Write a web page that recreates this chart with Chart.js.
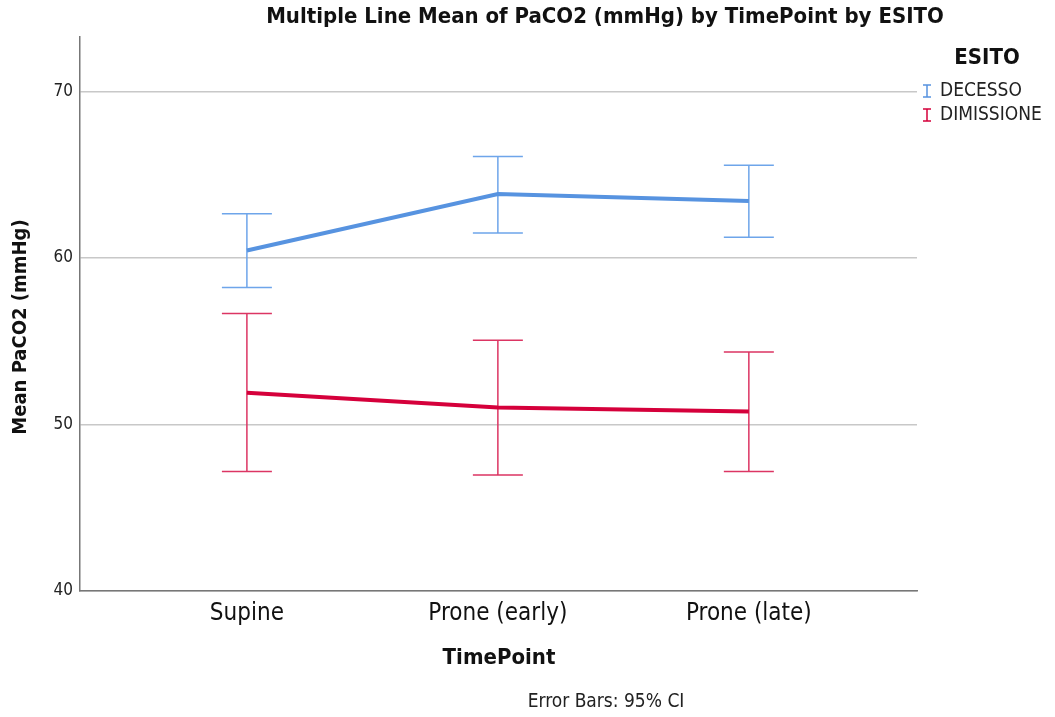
<!DOCTYPE html>
<html>
<head>
<meta charset="utf-8">
<script src="https://cdn.jsdelivr.net/npm/chart.js@4"></script>
<style>
  html, body { margin: 0; background: #fff; }
</style>
</head>
<body>
<canvas id="chart" width="1055" height="717"></canvas>
<script>
const timePoints = ['Supine', 'Prone (early)', 'Prone (late)'];
const decessoMean = [60.45, 63.84, 63.42];
const decessoLow = [58.22, 61.50, 61.24];
const decessoHigh = [62.65, 66.10, 65.57];
const dimissioneMean = [51.90, 51.02, 50.78];
const dimissioneLow = [47.18, 46.96, 47.18];
const dimissioneHigh = [56.67, 55.06, 54.36];
const yTicks = [40, 50, 60, 70];

const FONT = '"DejaVu Sans Condensed", "Liberation Sans Narrow", "DejaVu Sans", sans-serif';
const BLUE = '#5793e0';
const BLUE_BAR = '#6ea5ea';
const RED = '#d5003b';
const RED_BAR = '#dc3563';

const series = [
  { label: 'DECESSO', mean: decessoMean, low: decessoLow, high: decessoHigh, color: BLUE, bar: BLUE_BAR },
  { label: 'DIMISSIONE', mean: dimissioneMean, low: dimissioneLow, high: dimissioneHigh, color: RED, bar: RED_BAR }
];

// error bars (95% CI) + the loose texts around the plot
const spssExtras = {
  id: 'spssExtras',
  beforeDatasetsDraw(chart) {
    const { ctx, scales: { x, y } } = chart;
    ctx.save();
    ctx.lineWidth = 1.5;
    series.forEach(s => {
      ctx.strokeStyle = s.bar;
      s.mean.forEach((m, i) => {
        const px = x.getPixelForValue(i);
        const top = y.getPixelForValue(s.high[i]);
        const bot = y.getPixelForValue(s.low[i]);
        ctx.beginPath();
        ctx.moveTo(px, top); ctx.lineTo(px, bot);
        ctx.moveTo(px - 25, top); ctx.lineTo(px + 25, top);
        ctx.moveTo(px - 25, bot); ctx.lineTo(px + 25, bot);
        ctx.stroke();
      });
    });
    ctx.restore();
  },
  afterDraw(chart) {
    const { ctx, chartArea } = chart;
    ctx.save();
    ctx.fillStyle = '#111';
    ctx.textBaseline = 'middle';
    ctx.textAlign = 'center';

    ctx.font = 'bold 22px ' + FONT;
    ctx.fillText('Multiple Line Mean of PaCO2 (mmHg) by TimePoint by ESITO', 605, 17);
    ctx.fillText('TimePoint', 499, 658);

    ctx.font = 'bold 20px ' + FONT;
    ctx.save();
    ctx.translate(21, (chartArea.top + chartArea.bottom) / 2 + 13);
    ctx.rotate(-Math.PI / 2);
    ctx.fillText('Mean PaCO2 (mmHg)', 0, 0);
    ctx.restore();

    ctx.font = '19px ' + FONT;
    ctx.fillStyle = '#222';
    ctx.fillText('Error Bars: 95% CI', 606, 702);

    // legend
    ctx.fillStyle = '#111';
    ctx.font = 'bold 22px ' + FONT;
    ctx.fillText('ESITO', 987, 58);
    ctx.textAlign = 'left';
    ctx.font = '19px ' + FONT;
    series.forEach((s, i) => {
      const cy = 91 + i * 24;
      ctx.strokeStyle = s.color;
      ctx.lineWidth = 1.5;
      ctx.beginPath();
      ctx.moveTo(927, cy - 6); ctx.lineTo(927, cy + 6);
      ctx.moveTo(923, cy - 6); ctx.lineTo(931, cy - 6);
      ctx.moveTo(923, cy + 6); ctx.lineTo(931, cy + 6);
      ctx.stroke();
      ctx.fillStyle = '#222';
      ctx.fillText(s.label, 940, cy);
    });
    ctx.restore();
  }
};

new Chart(document.getElementById('chart'), {
  type: 'line',
  data: {
    datasets: series.map(s => ({
      label: s.label,
      data: s.mean.map((v, i) => ({ x: i, y: v })),
      borderColor: s.color,
      backgroundColor: s.color,
      borderWidth: 4,
      pointRadius: 0,
      tension: 0
    }))
  },
  options: {
    responsive: false,
    animation: false,
    devicePixelRatio: 1,
    layout: { padding: { top: 37, right: 138, left: 0, bottom: 0 } },
    plugins: {
      legend: { display: false },
      title: { display: false },
      tooltip: { enabled: false }
    },
    scales: {
      x: {
        type: 'linear',
        min: -0.665,
        max: 2.67,
        afterBuildTicks: scale => { scale.ticks = timePoints.map((t, i) => ({ value: i })); },
        afterFit: scale => { scale.height = 126; },
        ticks: {
          callback: v => timePoints[v],
          color: '#111',
          font: { family: FONT, size: 24 },
          padding: 8,
          maxRotation: 0
        },
        grid: { display: false, drawTicks: false },
        border: { display: true, color: '#777', width: 1.5 }
      },
      y: {
        min: 40,
        max: 73.27,
        afterBuildTicks: scale => { scale.ticks = yTicks.map(v => ({ value: v })); },
        afterFit: scale => { scale.width = 80; },
        ticks: {
          color: '#222',
          font: { family: FONT, size: 17 },
          padding: 7
        },
        grid: { color: '#c8c8c8', lineWidth: 1.5, drawTicks: false },
        border: { display: true, color: '#777', width: 1.5 }
      }
    }
  },
  plugins: [spssExtras]
});
</script>
</body>
</html>
